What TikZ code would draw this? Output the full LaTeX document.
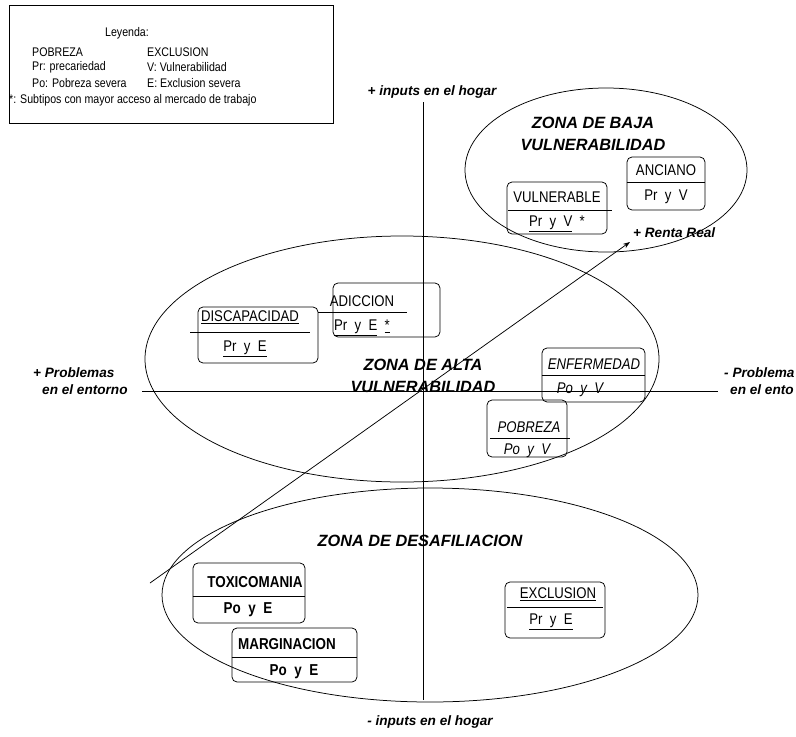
\documentclass[tikz,border=0pt]{standalone}
\usepackage{fontspec}
\setmainfont{Liberation Sans}
\newfontfamily\nar{Liberation Sans}[FakeStretch=0.85]
\usetikzlibrary{shapes.geometric,arrows.meta}
\begin{document}
\begin{tikzpicture}[x=1pt,y=-1pt,
  ln/.style={line width=0.75pt, black},
  zbox/.style={draw, line width=0.75pt, rounded corners=5pt, inner sep=0pt},
  zone/.style={ellipse, draw, line width=0.75pt, inner sep=0pt},
  bt/.style={inner sep=0pt, font=\nar\fontsize{15.5}{18}\selectfont},
  bti/.style={inner sep=0pt, font=\nar\itshape\fontsize{15.5}{18}\selectfont},
  btb/.style={inner sep=0pt, font=\nar\bfseries\fontsize{15.8}{18}\selectfont},
  zl/.style={inner sep=0pt, align=center, font=\bfseries\itshape\fontsize{16.3}{22}\selectfont},
  al/.style={inner sep=0pt, font=\bfseries\itshape\fontsize{13.6}{16}\selectfont},
  lt/.style={inner sep=0pt, anchor=west, font=\nar\fontsize{12.5}{14}\selectfont}]
\useasboundingbox (0,0) rectangle (796,737);

% legend
\node[draw, line width=0.6pt, inner sep=0pt, minimum width=324pt, minimum height=118pt] (leg) at (171,64) {};
\node[lt, anchor=center] (legt) at (127,33) {Leyenda:};
\node[lt] (l1a) at (32,52) {POBREZA};
\node[lt] (l1b) at (147,52) {EXCLUSION};
\node[lt] (l2a) at (32,67) {Pr: precariedad};
\node[lt] (l2b) at (147,67) {V: Vulnerabilidad};
\node[lt] (l3a) at (32,83) {Po: Pobreza severa};
\node[lt] (l3b) at (147,83) {E: Exclusion severa};
\node[lt] (l4) at (9,100) {*: Subtipos con mayor acceso al mercado de trabajo};

% zones
\node[zone, minimum width=282pt, minimum height=164pt] (baja) at (606,170) {};
\node[zone, minimum width=514pt, minimum height=246pt] (alta) at (402,359) {};
\node[zone, minimum width=536pt, minimum height=214pt] (desa) at (430,595) {};

% axes
\coordinate (vt) at (423,102);
\coordinate (vb) at (423,700);
\coordinate (hl) at (142,391);
\coordinate (hr) at (718,391);
\draw[ln] (vt) -- (vb);
\draw[ln] (hl) -- (hr);
\coordinate (as) at (150,583);
\coordinate (ae) at (630,242);
\draw[ln, -{Stealth[length=7pt,width=5pt]}] (as) -- (ae);

% axis labels
\node[al] (top) at (432,92) {+ inputs en el hogar};
\node[al] (bot) at (430,722) {- inputs en el hogar};
\node[al, anchor=west] (renta) at (633,233) {+ Renta Real};
\node[al, anchor=west] (pl1) at (33,373) {+ Problemas};
\node[al, anchor=west] (pl2) at (42,390) {en el entorno};
\node[al, anchor=west] (pr1) at (724,373) {- Problema};
\node[al, anchor=west] (pr2) at (730,390) {en el ento};

% zone labels
\node[zl] (zbaja) at (593,134) {ZONA DE BAJA\\VULNERABILIDAD};
\node[zl] (zalta) at (423,376) {ZONA DE ALTA\\VULNERABILIDAD};
\node[zl] (zdesa) at (420,541) {ZONA DE DESAFILIACION};

% boxes
\node[zbox, minimum width=120pt, minimum height=56pt] (disc) at (258,335) {};
\draw[ln] (190,332) -- (310,332);
\node[bt] (disct) at (250,317) {\underline{DISCAPACIDAD}};
\node[bt] (discs) at (245,349) {\underline{Pr~ y~ E}};

\node[zbox, minimum width=107pt, minimum height=54pt] (adic) at (386.5,310) {};
\draw[ln] (318,312) -- (407,312);
\node[bt] (adict) at (362,301) {ADICCION};
\node[bt] (adics) at (362,328) {\underline{Pr~ y~ E}~ \underline{*}};

\node[zbox, minimum width=100pt, minimum height=52pt] (vuln) at (557,208) {};
\draw[ln] (508,210) -- (612,210);
\node[bt] (vulnt) at (557,197) {VULNERABLE};
\node[bt] (vulns) at (557,224) {\underline{Pr~ y~ V}~ *};

\node[zbox, minimum width=78pt, minimum height=53pt] (anci) at (666,183.5) {};
\draw[ln] (anci.west |- 0,182) -- (anci.east |- 0,182);
\node[bt] (ancit) at (666,170) {ANCIANO};
\node[bt] (ancis) at (666,197) {Pr~ y~ V};

\node[zbox, minimum width=103pt, minimum height=54pt] (enfe) at (593.5,375) {};
\draw[ln] (enfe.west |- 0,375) -- (enfe.east |- 0,375);
\node[bti] (enfet) at (594,364) {ENFERMEDAD};
\node[bti] (enfes) at (580,390) {Po~ y~ V};

\node[zbox, minimum width=80pt, minimum height=57pt] (pobr) at (527,428.5) {};
\draw[ln] (490,438) -- (570,438);
\node[bti] (pobrt) at (529,427) {POBREZA};
\node[bti] (pobrs) at (527,451) {Po~ y~ V};

\node[zbox, minimum width=100pt, minimum height=56pt] (excl) at (555,610) {};
\draw[ln] (507,607) -- (603,607);
\node[bt] (exclt) at (558,594) {\underline{EXCLUSION}};
\node[bt] (excls) at (551,622) {\underline{Pr~ y~ E}};

\node[zbox, minimum width=112pt, minimum height=60pt] (toxi) at (249,593) {};
\draw[ln] (toxi.west |- 0,596) -- (toxi.east |- 0,596);
\node[btb] (toxit) at (255,582) {TOXICOMANIA};
\node[btb] (toxis) at (248,610) {Po~ y~ E};

\node[zbox, minimum width=125pt, minimum height=54pt] (marg) at (294.5,655) {};
\draw[ln] (marg.west |- 0,657) -- (marg.east |- 0,657);
\node[btb] (margt) at (287,644) {MARGINACION};
\node[btb] (margs) at (294,672) {Po~ y~ E};
\end{tikzpicture}
\end{document}
